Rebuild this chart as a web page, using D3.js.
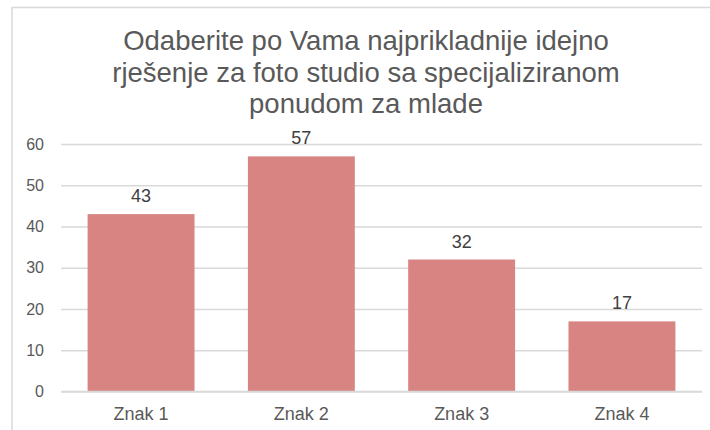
<!DOCTYPE html>
<html><head><meta charset="utf-8">
<script src="https://cdn.jsdelivr.net/npm/d3@7"></script>
<style>html,body{margin:0;padding:0;background:#fff;}svg{display:block;font-family:"Liberation Sans",Arial,sans-serif;}</style>
</head><body>
<svg id="c" width="710" height="430"></svg>
<script>
const categories = ["Znak 1", "Znak 2", "Znak 3", "Znak 4"];
const values = [43, 57, 32, 17];
const yTicks = [0, 10, 20, 30, 40, 50, 60];
const titleLines = ["Odaberite po Vama najprikladnije idejno", "rješenje za foto studio sa specijaliziranom", "ponudom za mlade"];

const svg = d3.select("#c");
svg.append("rect").attr("x", 12).attr("y", 7.5).attr("width", 720).attr("height", 440)
  .attr("fill", "#fff").attr("stroke", "#d9d9d9").attr("stroke-width", 1.5);

const x0 = 61, x1 = 702;
const x = d3.scaleBand().domain(categories).range([x0, x1]).paddingInner(0.333).paddingOuter(0.166);
const y = d3.scaleLinear().domain([0, 60]).range([391.5, 144]);

// title
svg.append("text").attr("text-anchor", "middle").attr("fill", "#595959")
  .style("font-size", "27.5px")
  .selectAll("tspan").data(titleLines).join("tspan")
  .attr("x", 366).attr("y", (d, i) => 50 + i * 31.5).text(d => d);

// gridlines + y tick labels
const yAxis = d3.axisLeft(y).tickValues(yTicks).tickSize(-(x1 - x0)).tickPadding(17);
const gy = svg.append("g").attr("transform", `translate(${x0},0)`).call(yAxis);
gy.select(".domain").remove();
gy.selectAll(".tick line").attr("stroke", "#d9d9d9").attr("stroke-width", 1.3);
gy.selectAll(".tick text").attr("fill", "#595959").style("font-size", "16px").style("font-family", "'Liberation Sans',Arial,sans-serif");

// bars
svg.append("g").selectAll("rect").data(values).join("rect")
  .attr("x", (d, i) => x(categories[i])).attr("width", x.bandwidth())
  .attr("y", d => y(d)).attr("height", d => y(0) - y(d))
  .attr("fill", "#d78483");

// baseline over bars
svg.append("line").attr("x1", x0).attr("x2", x1).attr("y1", y(0)).attr("y2", y(0))
  .attr("stroke", "#d9d9d9").attr("stroke-width", 1.3);

// value labels
svg.append("g").selectAll("text").data(values).join("text")
  .attr("x", (d, i) => x(categories[i]) + x.bandwidth() / 2)
  .attr("y", d => y(d) - 12).attr("text-anchor", "middle")
  .attr("fill", "#404040").style("font-size", "18px").text(d => d);

// x axis labels
const xAxis = d3.axisBottom(x).tickSize(0).tickPadding(0);
const gx = svg.append("g").attr("transform", `translate(0,${y(0)})`).call(xAxis);
gx.select(".domain").remove();
gx.selectAll(".tick text").attr("dy", null).attr("y", 28).attr("fill", "#595959")
  .style("font-size", "18px").style("font-family", "'Liberation Sans',Arial,sans-serif");
</script>
</body></html>
